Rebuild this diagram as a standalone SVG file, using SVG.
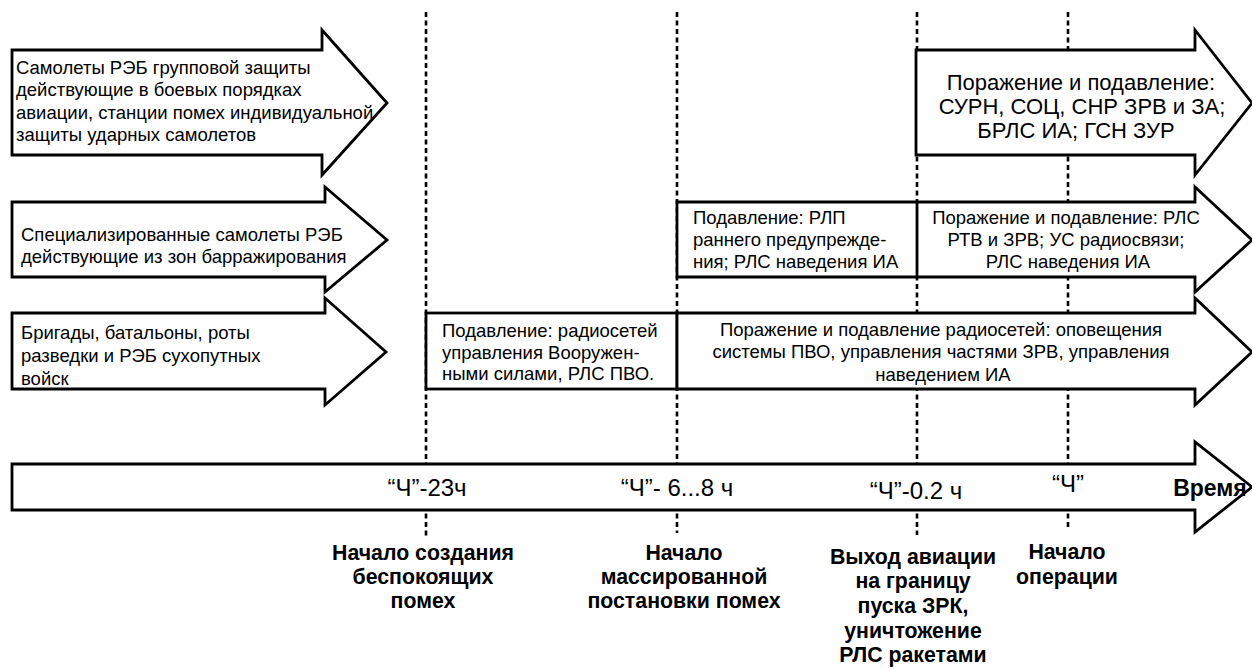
<svg xmlns="http://www.w3.org/2000/svg" width="1252" height="670" viewBox="0 0 1252 670">
  <style>
    .arrow { fill: #ffffff; stroke: #000000; stroke-width: 2.8; stroke-linejoin: miter; }
    .box { fill: #ffffff; stroke: #000000; stroke-width: 2.8; }
    .mark { stroke: #000000; stroke-width: 2.6; stroke-dasharray: 5 3.5; fill: none; }
    .t { font-family: "Liberation Sans", Arial, sans-serif; font-size: 18.5px; fill: #000000; }
    .big { font-size: 22px; }
    .c { text-anchor: middle; }
    .time { font-family: "Liberation Sans", Arial, sans-serif; font-size: 24px; fill: #000000; text-anchor: middle; }
    .b { font-family: "Liberation Sans", Arial, sans-serif; font-size: 21.3px; font-weight: bold; fill: #000000; text-anchor: middle; }
  </style>
  <rect width="1252" height="670" fill="#ffffff"/>

  <!-- time markers (dotted verticals), drawn under the arrows -->
  <g id="connectors">
    <line class="mark" x1="426" y1="12" x2="426" y2="537"/>
    <line class="mark" x1="677" y1="12" x2="677" y2="533"/>
    <line class="mark" x1="917" y1="12" x2="917" y2="535"/>
    <line class="mark" x1="1068" y1="12" x2="1068" y2="527"/>
  </g>

  <!-- row 1: group jamming aircraft -->
  <g id="row1-source">
    <path class="arrow" d="M12,50 H322 V30 L387,103 L322,175 V155 H12 Z"/>
    <text class="t" x="16" y="74">Самолеты РЭБ групповой защиты</text>
    <text class="t" x="16" y="96">действующие в боевых порядках</text>
    <text class="t" x="16" y="119">авиации, станции помех индивидуальной</text>
    <text class="t" x="16" y="141">защиты ударных самолетов</text>
  </g>
  <g id="row1-task">
    <path class="arrow" d="M916,50 H1195 V30 L1252,103 L1195,175 V155 H916 Z"/>
    <text class="t big c" x="1081" y="90">Поражение и подавление:</text>
    <text class="t big c" x="1082" y="114">СУРН, СОЦ, СНР ЗРВ и ЗА;</text>
    <text class="t big c" x="1076" y="138">БРЛС ИА; ГСН ЗУР</text>
  </g>

  <!-- row 2: stand-off jamming aircraft -->
  <g id="row2-source">
    <path class="arrow" d="M12,202 H325 V187 L387,240 L325,292 V277 H12 Z"/>
    <text class="t" x="21" y="241">Специализированные самолеты РЭБ</text>
    <text class="t" x="21" y="263">действующие из зон барражирования</text>
  </g>
  <g id="row2-task">
    <path class="arrow" d="M677,202 H1195 V187 L1252,240 L1195,292 V277 H677 Z"/>
    <line class="box" x1="917" y1="202" x2="917" y2="277"/>
    <text class="t" x="693" y="224">Подавление:  РЛП</text>
    <text class="t" x="693" y="246">раннего предупрежде-</text>
    <text class="t" x="693" y="268">ния; РЛС наведения ИА</text>
    <text class="t c" x="1066" y="224">Поражение и подавление: РЛС</text>
    <text class="t c" x="1066" y="246">РТВ и ЗРВ; УС радиосвязи;</text>
    <text class="t c" x="1068" y="268">РЛС наведения ИА</text>
  </g>

  <!-- row 3: ground forces EW units -->
  <g id="row3-source">
    <path class="arrow" d="M12,313 H325 V298 L386,352 L325,405 V389 H12 Z"/>
    <text class="t" x="21" y="339">Бригады, батальоны, роты</text>
    <text class="t" x="21" y="362">разведки и РЭБ сухопутных</text>
    <text class="t" x="21" y="385">войск</text>
  </g>
  <g id="row3-task">
    <rect class="box" x="426" y="313" width="251" height="76"/>
    <text class="t" x="442" y="337">Подавление: радиосетей</text>
    <text class="t" x="442" y="359">управления Вооружен-</text>
    <text class="t" x="442" y="380">ными силами, РЛС ПВО.</text>
    <path class="arrow" d="M677,313 H1195 V298 L1252,352 L1195,405 V389 H677 Z"/>
    <text class="t c" x="941" y="336">Поражение и подавление радиосетей: оповещения</text>
    <text class="t c" x="941" y="358">системы ПВО, управления частями ЗРВ, управления</text>
    <text class="t c" x="943" y="381">наведением ИА</text>
  </g>

  <!-- time axis -->
  <g id="time-axis">
    <path class="arrow" d="M12,464 H1195 V442 L1252,487 L1195,532 V510 H12 Z"/>
    <text class="time" x="427" y="496">“Ч”-23ч</text>
    <text class="time" x="677" y="496">“Ч”- 6...8 ч</text>
    <text class="time" x="916" y="499">“Ч”-0.2 ч</text>
    <text class="time" x="1068" y="492">“Ч”</text>
    <text class="b" x="1210" y="496" style="font-size:23px">Время</text>
  </g>

  <!-- milestone captions -->
  <g id="milestone-1">
    <text class="b" x="423" y="560">Начало создания</text>
    <text class="b" x="423" y="584">беспокоящих</text>
    <text class="b" x="423" y="608">помех</text>
  </g>
  <g id="milestone-2">
    <text class="b" x="684" y="560">Начало</text>
    <text class="b" x="684" y="584">массированной</text>
    <text class="b" x="684" y="608">постановки помех</text>
  </g>
  <g id="milestone-3">
    <text class="b" x="913" y="564">Выход авиации</text>
    <text class="b" x="913" y="588">на границу</text>
    <text class="b" x="913" y="613">пуска ЗРК,</text>
    <text class="b" x="913" y="638">уничтожение</text>
    <text class="b" x="913" y="662">РЛС ракетами</text>
  </g>
  <g id="milestone-4">
    <text class="b" x="1067" y="559">Начало</text>
    <text class="b" x="1067" y="584">операции</text>
  </g>
</svg>
